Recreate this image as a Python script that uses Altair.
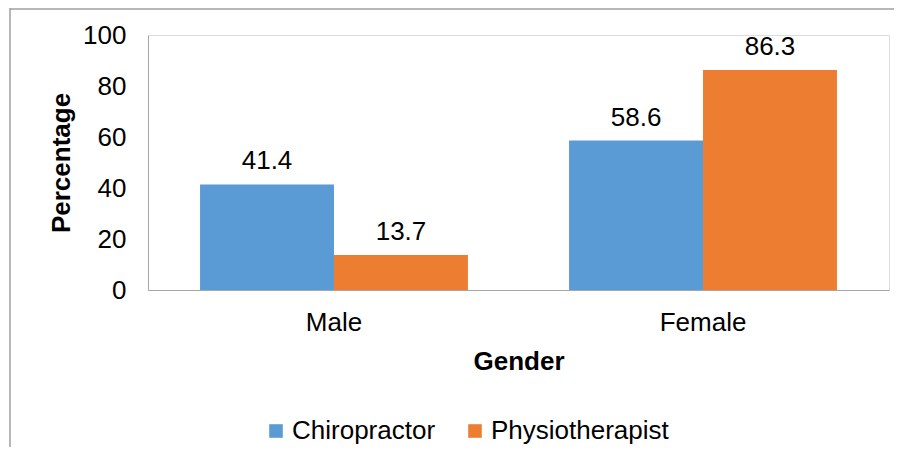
import altair as alt
import pandas as pd

genders = ["Male", "Male", "Female", "Female"]
professions = ["Chiropractor", "Physiotherapist", "Chiropractor", "Physiotherapist"]
values = [41.4, 13.7, 58.6, 86.3]
y_ticks = [0, 20, 40, 60, 80, 100]
colors = ["#5B9BD5", "#ED7D31"]

df = pd.DataFrame({"Gender": genders, "Profession": professions, "Percentage": values})
FONT = "Liberation Sans"
FS = 26

x = alt.X("Gender:N", sort=["Male", "Female"], title="Gender",
          scale=alt.Scale(paddingInner=0.274, paddingOuter=0.141),
          axis=alt.Axis(labelAngle=0, ticks=False, labelFontSize=FS, labelPadding=19,
                        titleFontSize=FS, titleFontWeight="bold", titlePadding=13,
                        domainColor="#a6a6a6", labelColor="#000", titleColor="#000"))
y = alt.Y("Percentage:Q", title="Percentage",
          scale=alt.Scale(domain=[0, 100], nice=False),
          axis=alt.Axis(values=y_ticks, ticks=False, grid=False, labelFontSize=FS, labelPadding=22,
                        titleFontSize=FS, titleFontWeight="bold", titlePadding=8,
                        domainColor="#a6a6a6", labelColor="#000", titleColor="#000"))
color = alt.Color("Profession:N", sort=["Chiropractor", "Physiotherapist"],
                  scale=alt.Scale(domain=["Chiropractor", "Physiotherapist"], range=colors),
                  legend=alt.Legend(title=None, orient="none", direction="horizontal",
                                    legendX=115, legendY=383, symbolType="square", symbolSize=185,
                                    symbolStrokeWidth=0, labelFontSize=FS, columnPadding=26,
                                    labelOffset=3, labelLimit=400, labelColor="#000"))
xoff = alt.XOffset("Profession:N", sort=["Chiropractor", "Physiotherapist"])

bars = alt.Chart(df).mark_bar().encode(x=x, y=y, color=color, xOffset=xoff)
labels = alt.Chart(df).mark_text(fontSize=FS, baseline="alphabetic", dy=-15, color="#000").encode(
    x=x, y=y, xOffset=xoff, text=alt.Text("Percentage:Q", format=".1f"))

one = pd.DataFrame({"a": [0]})
border_left = alt.Chart(one).mark_rule(color="#a0a0a0", strokeWidth=1.5).encode(
    x=alt.value(-138), y=alt.value(-27), y2=alt.value(430))
border_top = alt.Chart(one).mark_rule(color="#a0a0a0", strokeWidth=1.5).encode(
    x=alt.value(-138), x2=alt.value(746), y=alt.value(-26))

chart = alt.layer(bars, labels, border_left, border_top).properties(
    width=741, height=255, autosize="none",
    padding={"left": 140, "top": 27, "right": 5, "bottom": 157},
).configure_view(stroke=None).configure(font=FONT)

chart.save("out.html", embed_options={"renderer": "svg", "actions": False})
